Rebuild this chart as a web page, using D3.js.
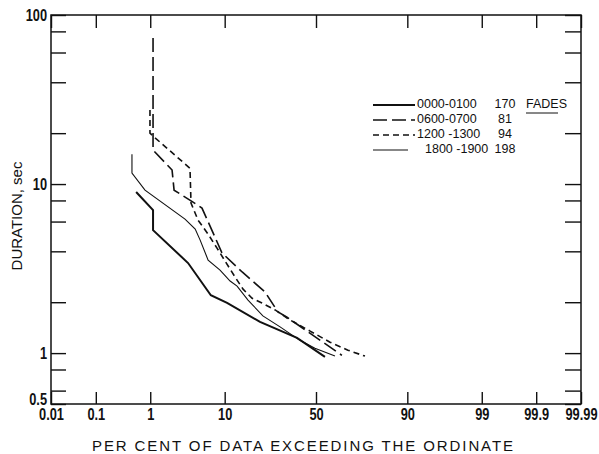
<!DOCTYPE html>
<html>
<head>
<meta charset="utf-8">
<script src="https://cdnjs.cloudflare.com/ajax/libs/d3/7.8.5/d3.min.js"></script>
<style>
  body { margin: 0; background: #fff; }
  svg { display: block; }
</style>
</head>
<body>
<div id="chart"></div>
<script>
// ==== Data ====
// x = per cent of data exceeding the ordinate, y = fade duration in sec
const pct0000 = [0.58, 1.11, 1.11, 3.63, 7.0, 10.6, 21.6, 39.5, 55.0];
const dur0000 = [8.97, 7.02, 5.34, 3.41, 2.20, 1.98, 1.53, 1.23, 0.95];

const pct0600 = [1.11, 1.11, 2.17, 2.32, 4.22, 5.48, 9.36, 15.0, 23.7, 29.7, 34.2, 64.2];
const dur0600 = [73.1, 15.9, 12.1, 9.2, 7.82, 7.21, 3.91, 3.02, 2.30, 1.75, 1.63, 0.97];

const pct1200 = [0.99, 0.99, 1.15, 3.85, 3.97, 4.89, 6.49, 8.24, 10.1, 12.8, 15.3, 18.5, 22.4, 28.3, 35.8, 46.7, 57.8, 67.3, 75.4];
const dur1200 = [27.4, 20.0, 19.0, 12.4, 7.72, 6.12, 5.06, 4.18, 3.50, 2.82, 2.39, 2.11, 1.98, 1.80, 1.57, 1.35, 1.16, 1.04, 0.96];

const pct1800 = [0.49, 0.49, 0.82, 3.3, 4.5, 5.2, 6.5, 8.9, 11.4, 13.4, 17.0, 22.8, 30.7, 41.1, 49.4, 60.5];
const dur1800 = [15.0, 11.6, 9.2, 6.2, 5.42, 4.66, 3.55, 3.10, 2.67, 2.49, 2.06, 1.66, 1.43, 1.19, 1.07, 0.96];

const seriesNames = ["0000-0100", "0600-0700", "1200 -1300", "1800 -1900"];
const fadeCounts = [170, 81, 94, 198];

const xTickValues = [0.01, 0.1, 1, 10, 50, 90, 99, 99.9, 99.99];
const xTickLabels = ["0.01", "0.1", "1", "10", "50", "90", "99", "99.9", "99.99"];
const yTickValues = [0.5, 0.6, 0.8, 1, 2, 4, 6, 8, 10, 20, 40, 60, 80, 100];
const yTickLabels = { 0.5: "0.5", 1: "1", 10: "10", 100: "100" };

// ==== Setup ====
const width = 599, height = 454;
const plotL = 51, plotR = 581, plotT = 15, plotB = 404;

const svg = d3.select("#chart").append("svg")
  .attr("width", width)
  .attr("height", height);
svg.append("rect").attr("width", width).attr("height", height).attr("fill", "#fff");

// inverse normal CDF (Acklam), used for the probability paper axis
function probit(p) {
  const a = [-39.69683028665376, 220.9460984245205, -275.9285104469687, 138.3577518672690, -30.66479806614716, 2.506628277459239];
  const b = [-54.47609879822406, 161.5858368580409, -155.6989798598866, 66.80131188771972, -13.28068155288572];
  const c = [-0.007784894002430293, -0.3223964580411365, -2.400758277161838, -2.549732539343734, 4.374664141464968, 2.938163982698783];
  const d = [0.007784695709041462, 0.3224671290700398, 2.445134137142996, 3.754408661907416];
  const pl = 0.02425;
  let q, r;
  if (p < pl) {
    q = Math.sqrt(-2 * Math.log(p));
    return (((((c[0]*q+c[1])*q+c[2])*q+c[3])*q+c[4])*q+c[5]) / ((((d[0]*q+d[1])*q+d[2])*q+d[3])*q+1);
  }
  if (p <= 1 - pl) {
    q = p - 0.5; r = q*q;
    return (((((a[0]*r+a[1])*r+a[2])*r+a[3])*r+a[4])*r+a[5])*q / (((((b[0]*r+b[1])*r+b[2])*r+b[3])*r+b[4])*r+1);
  }
  q = Math.sqrt(-2 * Math.log(1 - p));
  return -(((((c[0]*q+c[1])*q+c[2])*q+c[3])*q+c[4])*q+c[5]) / ((((d[0]*q+d[1])*q+d[2])*q+d[3])*q+1);
}

const zScale = d3.scaleLinear()
  .domain([probit(0.0001), probit(0.9999)])
  .range([plotL, plotR]);
const x = pct => zScale(probit(pct / 100));
const y = d3.scaleLog().domain([0.5, 100]).range([plotB, plotT]);

const font = "'Liberation Sans', Arial, sans-serif";
const zTicks = xTickValues.map(p => probit(p / 100));

// ==== Axes ====
const gBottom = svg.append("g")
  .attr("transform", `translate(0,${plotB})`)
  .call(d3.axisBottom(zScale).tickValues(zTicks)
    .tickFormat((d, i) => xTickLabels[i])
    .tickSizeInner(-12).tickSizeOuter(0).tickPadding(5));

const gTop = svg.append("g")
  .attr("transform", `translate(0,${plotT})`)
  .call(d3.axisTop(zScale).tickValues(zTicks)
    .tickFormat("").tickSizeInner(-13).tickSizeOuter(0));

const gLeft = svg.append("g")
  .attr("transform", `translate(${plotL},0)`)
  .call(d3.axisLeft(y).tickValues(yTickValues)
    .tickFormat(d => yTickLabels[d] || "")
    .tickSizeInner(-15).tickSizeOuter(0).tickPadding(5));

const gRight = svg.append("g")
  .attr("transform", `translate(${plotR},0)`)
  .call(d3.axisRight(y).tickValues(yTickValues)
    .tickFormat("").tickSizeInner(-16).tickSizeOuter(0));

[gBottom, gTop, gLeft, gRight].forEach(g => {
  g.select(".domain").remove();
  g.selectAll(".tick line").attr("stroke", "#111").attr("stroke-width", 1.4);
  g.selectAll("text")
    .attr("fill", "#111")
    .attr("transform", "scale(0.8,1)")   // condensed look of the original lettering
    .style("font-family", font)
    .style("font-weight", "bold")
    .style("font-size", "16px");
});

// lift the 0.5 label clear of the x labels
gLeft.selectAll(".tick").filter(d => d === 0.5).select("text").attr("dy", "0.0em");

// frame
svg.append("rect")
  .attr("x", plotL).attr("y", plotT)
  .attr("width", plotR - plotL).attr("height", plotB - plotT)
  .attr("fill", "none").attr("stroke", "#111").attr("stroke-width", 1.5);

// ==== Curves ====
const series = [
  { pct: pct0000, dur: dur0000, width: 2.0, dash: null },
  { pct: pct0600, dur: dur0600, width: 1.6, dash: "14,5" },
  { pct: pct1200, dur: dur1200, width: 1.6, dash: "6,4" },
  { pct: pct1800, dur: dur1800, width: 1.1, dash: null }
];

const line = d3.line().x(d => x(d[0])).y(d => y(d[1]));

series.forEach(s => {
  svg.append("path")
    .datum(d3.zip(s.pct, s.dur))
    .attr("d", line)
    .attr("fill", "none")
    .attr("stroke", "#111")
    .attr("stroke-width", s.width)
    .attr("stroke-dasharray", s.dash);
});

// ==== Legend ====
const legend = svg.append("g")
  .style("font-family", font)
  .style("font-size", "12.5px")
  .attr("fill", "#111");

seriesNames.forEach((name, i) => {
  const ly = 104 + i * 15;
  const s = series[i];
  legend.append("line")
    .attr("x1", 373).attr("x2", i === 3 ? 408 : 415)
    .attr("y1", ly + 1).attr("y2", ly + 1)
    .attr("stroke", "#111")
    .attr("stroke-width", s.width)
    .attr("stroke-dasharray", s.dash);
  legend.append("text")
    .attr("x", i === 3 ? 425 : 417).attr("y", ly)
    .attr("dy", "0.35em")
    .text(name);
  legend.append("text")
    .attr("x", 505).attr("y", ly)
    .attr("dy", "0.35em")
    .attr("text-anchor", "middle")
    .text(fadeCounts[i]);
});

legend.append("text")
  .attr("x", 526).attr("y", 104)
  .attr("dy", "0.35em")
  .text("FADES");
legend.append("line")
  .attr("x1", 526).attr("x2", 558)
  .attr("y1", 113).attr("y2", 113)
  .attr("stroke", "#111").attr("stroke-width", 1);

// ==== Axis titles ====
svg.append("text")
  .attr("x", 92).attr("y", 451)
  .attr("textLength", 421)
  .attr("lengthAdjust", "spacing")
  .style("font-family", font)
  .style("font-size", "15px")
  .attr("fill", "#111")
  .text("PER CENT OF DATA EXCEEDING THE ORDINATE");

svg.append("text")
  .attr("transform", "translate(22,216) rotate(-90)")
  .attr("text-anchor", "middle")
  .style("font-family", font)
  .style("font-size", "15px")
  .attr("fill", "#111")
  .text("DURATION, sec");
</script>
</body>
</html>
